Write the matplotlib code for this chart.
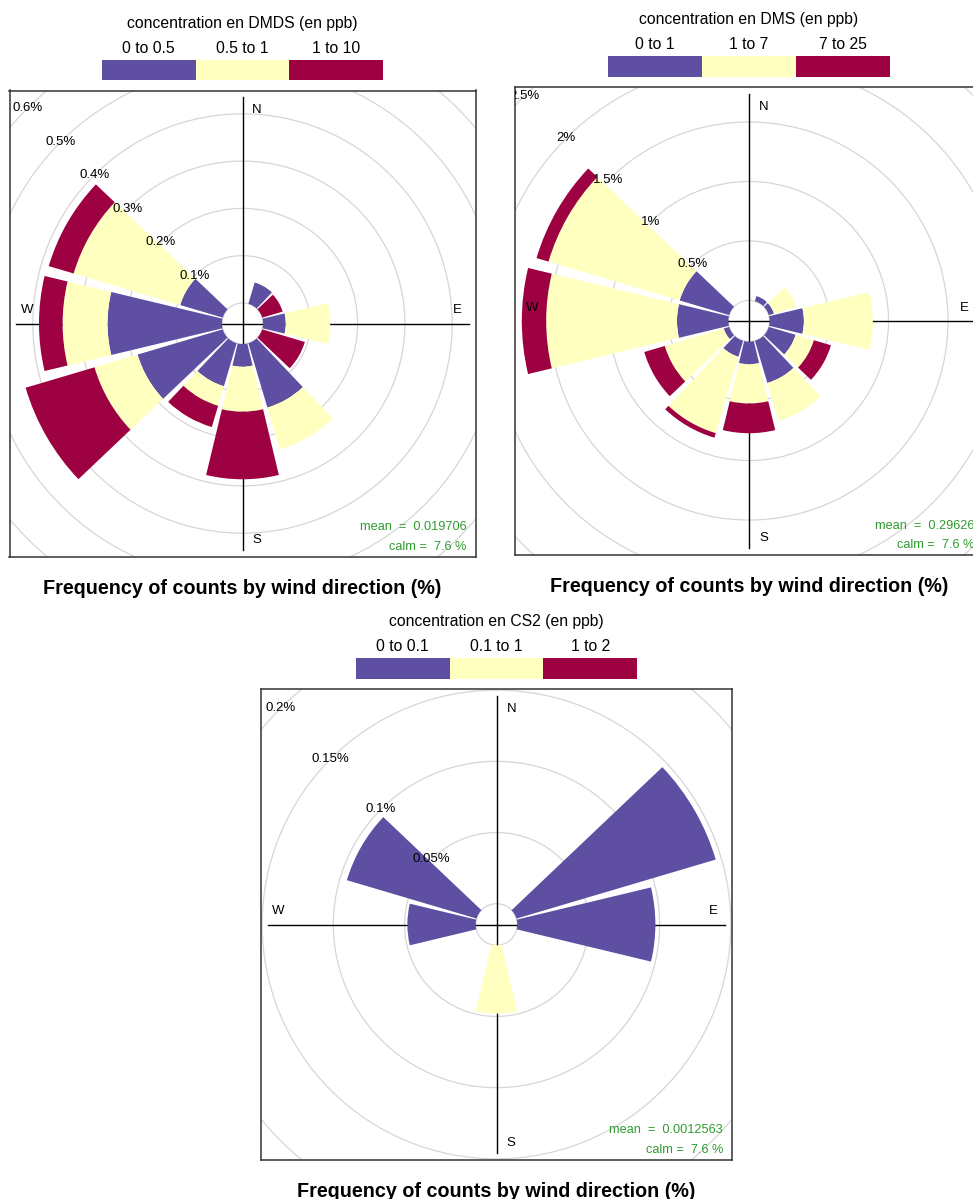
import matplotlib
matplotlib.use("Agg")
import matplotlib.pyplot as plt
from matplotlib.patches import Wedge, Circle
import numpy as np

plt.rcParams['font.family'] = ['Liberation Sans', 'DejaVu Sans']

# ---------------------------------------------------------------- data
directions = [0, 30, 60, 90, 120, 150, 180, 210, 240, 270, 300, 330]
compass = ["N", "E", "S", "W"]
calm_pct = "7.6"

# DMDS: frequency (%) per wind sector for each concentration class
dmds_title = "concentration en DMDS (en ppb)"
dmds_bins = ["0 to 0.5", "0.5 to 1", "1 to 10"]
dmds_low = [0, 0.047, 0, 0.048, 0, 0.142, 0.048, 0.095, 0.188, 0.242, 0.094, 0]
dmds_mid = [0, 0, 0, 0.094, 0, 0.092, 0.095, 0.043, 0.095, 0.095, 0.235, 0]
dmds_high = [0, 0, 0.045, 0, 0.094, 0, 0.143, 0.047, 0.152, 0.050, 0.055, 0]
dmds_rings = [0.1, 0.2, 0.3, 0.4, 0.5, 0.6]
dmds_ring_labels = ["0.1%", "0.2%", "0.3%", "0.4%", "0.5%", "0.6%"]
dmds_mean = "0.019706"

# DMS
dms_title = "concentration en DMS (en ppb)"
dms_bins = ["0 to 1", "1 to 7", "7 to 25"]
dms_low = [0, 0.045, 0.045, 0.288, 0.235, 0.370, 0.190, 0.140, 0.048, 0.432, 0.435, 0]
dms_mid = [0, 0, 0.195, 0.580, 0.160, 0.330, 0.330, 0.670, 0.517, 1.100, 1.150, 0]
dms_high = [0, 0, 0, 0, 0.150, 0, 0.250, 0.040, 0.180, 0.205, 0.105, 0]
dms_rings = [0.5, 1.0, 1.5, 2.0, 2.5]
dms_ring_labels = ["0.5%", "1%", "1.5%", "2%", "2.5%"]
dms_mean = "0.29626"

# CS2
cs2_title = "concentration en CS2 (en ppb)"
cs2_bins = ["0 to 0.1", "0.1 to 1", "1 to 2"]
cs2_low = [0, 0, 0.146, 0.097, 0, 0, 0, 0, 0, 0.048, 0.095, 0]
cs2_mid = [0, 0, 0, 0, 0, 0, 0.048, 0, 0, 0, 0, 0]
cs2_high = [0, 0, 0, 0, 0, 0, 0, 0, 0, 0, 0, 0]
cs2_rings = [0.05, 0.10, 0.15, 0.20]
cs2_ring_labels = ["0.05%", "0.1%", "0.15%", "0.2%"]
cs2_mean = "0.0012563"

bottom_title = "Frequency of counts by wind direction (%)"

# ---------------------------------------------------------------- style
COLORS = ["#5E4FA2", "#FFFFBF", "#9E0142"]
GRID = "#D6D6D6"
GREEN = "#2E9B2E"
SEG = 0.9  # fraction of each sector that is filled

W_PX, H_PX, DPI = 973, 1199, 100
fig = plt.figure(figsize=(W_PX / DPI, H_PX / DPI), dpi=DPI)
fig.patch.set_facecolor("white")


def fx(px):
    return px / W_PX


def fy(py):
    return 1 - py / H_PX


def draw_rose(cx, cy, half, series, bins, leg_title, rings, ring_labels, mean_val):
    ax = fig.add_axes([fx(cx - half), fy(cy + half), 2 * half / W_PX, 2 * half / H_PX])
    totals = np.sum(np.array(series), axis=0)
    mx = totals.max()
    off = 0.1 * mx
    L = mx + off
    lim = 1.03 * L
    ax.set_xlim(-lim, lim)
    ax.set_ylim(-lim, lim)
    ax.set_xticks([])
    ax.set_yticks([])
    for s in ax.spines.values():
        s.set_color("#333333")
        s.set_linewidth(1.1)

    # grid rings and calm circle
    for v in [0] + list(rings):
        ax.add_patch(Circle((0, 0), off + v, fill=False, ec=GRID, lw=0.9, zorder=1))
    # compass cross
    ax.plot([-L, L], [0, 0], color="black", lw=1.0, zorder=2)
    ax.plot([0, 0], [-L, L], color="black", lw=1.0, zorder=2)

    # stacked sectors
    half_w = SEG * 30 / 2
    cum = np.zeros(len(directions))
    for vals, col in zip(series, COLORS):
        for i, d in enumerate(directions):
            v = vals[i]
            if v > 0:
                th = 90 - d
                ax.add_patch(Wedge((0, 0), off + cum[i] + v, th - half_w, th + half_w,
                                   width=v, fc=col, ec="none", zorder=3))
        cum += np.array(vals)

    # ring labels along the north-west diagonal
    for v, lab in zip(rings, ring_labels):
        r = off + v
        ax.text(-r * np.sqrt(0.5), r * np.sqrt(0.5), lab, ha="center", va="center",
                fontsize=9.5, zorder=5, clip_on=True)

    H = lim
    ax.text(0.063 * H, 0.915 * H, compass[0], ha="center", va="center", fontsize=9.5, zorder=5)
    ax.text(0.92 * H, 0.057 * H, compass[1], ha="center", va="center", fontsize=9.5, zorder=5)
    ax.text(0.063 * H, -0.928 * H, compass[2], ha="center", va="center", fontsize=9.5, zorder=5)
    ax.text(-0.925 * H, 0.057 * H, compass[3], ha="center", va="center", fontsize=9.5, zorder=5)

    ax.text(0.981, 0.063, "mean  =  " + mean_val, transform=ax.transAxes, ha="right",
            va="center", fontsize=9.2, color=GREEN, zorder=5)
    ax.text(0.981, 0.021, "calm =  " + calm_pct + " %", transform=ax.transAxes, ha="right",
            va="center", fontsize=9.2, color=GREEN, zorder=5)

    # colour key above the panel
    top = cy - half
    bar_w = 281.7
    lax = fig.add_axes([fx(cx - bar_w / 2), fy(top - 10.3), bar_w / W_PX, 20.7 / H_PX])
    lax.bar(range(3), [1, 1, 1], width=1.0, color=COLORS, edgecolor="none")
    lax.set_xlim(-0.5, 2.5)
    lax.set_ylim(0, 1)
    lax.axis("off")
    for i, lab in enumerate(bins):
        fig.text(fx(cx - bar_w / 2 + bar_w * (i + 0.5) / 3), fy(top - 42.3), lab,
                 ha="center", va="center", fontsize=11.3)
    fig.text(fx(cx), fy(top - 67.3), leg_title, ha="center", va="center", fontsize=11.3)

    # title below the panel
    fig.text(fx(cx), fy(cy + half + 31.5), bottom_title, ha="center", va="center",
             fontsize=14.2, fontweight="bold")


draw_rose(242.5, 323.5, 233.0, [dmds_low, dmds_mid, dmds_high], dmds_bins, dmds_title,
          dmds_rings, dmds_ring_labels, dmds_mean)
draw_rose(749.0, 321.0, 234.0, [dms_low, dms_mid, dms_high], dms_bins, dms_title,
          dms_rings, dms_ring_labels, dms_mean)
draw_rose(496.5, 924.5, 235.5, [cs2_low, cs2_mid, cs2_high], cs2_bins, cs2_title,
          cs2_rings, cs2_ring_labels, cs2_mean)

fig.savefig("out.png", dpi=DPI, facecolor="white")
